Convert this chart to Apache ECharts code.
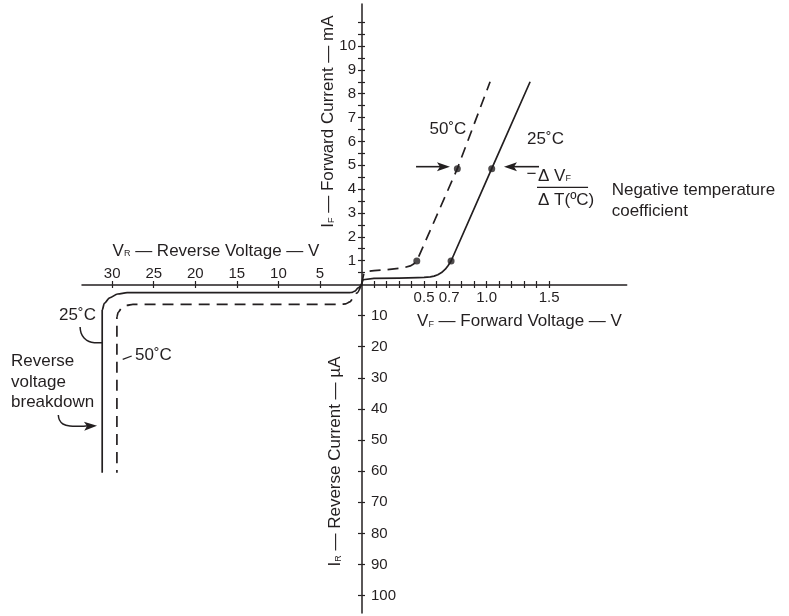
<!DOCTYPE html>
<html><head><meta charset="utf-8">
<script src="https://cdn.jsdelivr.net/npm/echarts@6.0.0/dist/echarts.min.js"></script>
<style>html,body{margin:0;padding:0;background:#fff}#c{width:789px;height:616px}</style>
</head><body><div id="c"></div>
<script>
// ---- tick values / labels ----
const fwdVoltTicks = [0.1,0.2,0.3,0.4,0.5,0.6,0.7,0.8,0.9,1.0,1.1,1.2,1.3,1.4,1.5];
const fwdVoltLabels = [0.5,0.7,1.0,1.5];
const fwdCurrTicks = [0.5,1,1.5,2,2.5,3,3.5,4,4.5,5,5.5,6,6.5,7,7.5,8,8.5,9,9.5,10,10.5,11];
const fwdCurrLabels = [1,2,3,4,5,6,7,8,9,10];
const revVoltTicks = [5,10,15,20,25,30];
const revCurrTicks = [10,20,30,40,50,60,70,80,90,100];
// ---- curves: forward [V, mA], reverse [V, uA] ----
const fwd25 = [[0,0],[0.012,0.2],[0.022,0.26],[0.1,0.26],[0.3,0.27],[0.45,0.29],[0.5,0.3],[0.55,0.32],[0.58,0.35],[0.61,0.41],[0.64,0.5],[0.67,0.64],[0.69,0.78],[0.705,0.89],[0.716,0.985],[1.041,4.855],[1.348,8.5]];
const fwd50 = [[0,0],[0.02,0.5],[0.06,0.56],[0.1,0.58],[0.2,0.62],[0.3,0.68],[0.35,0.72],[0.39,0.78],[0.42,0.87],[0.442,0.985],[0.766,4.855],[1.028,8.5]];
const rev25 = [[0,0],[0.4,1.1],[0.8,2.1],[1.1,2.5],[1.5,2.64],[10,2.64],[20,2.64],[28.2,2.64],[29.34,3.06],[30.3,4.27],[30.94,6.07],[31.2,8.2],[31.2,60.5]];
const rev50 = [[0,0],[0.58,2.8],[1.0,4.4],[1.4,5.6],[1.9,6.2],[2.5,6.4],[15,6.4],[27.5,6.4],[28.24,6.71],[28.86,7.6],[29.28,8.93],[29.43,10.5],[29.43,60.5]];
const dots25 = [[0.716,0.985],[1.041,4.855]];
const dots50 = [[0.442,0.985],[0.766,4.855]];
// ---- annotation anchors (data coordinates) ----
const annA = {
  t50:[0.691,6.52], t25:[1.471,6.08],
  arrowL:[[0.436,4.94],[0.707,4.94]], arrowR:[[1.419,4.94],[1.139,4.94]],
  minus:[1.359,4.63], dvf:[1.411,4.55], frac:[[1.403,4.075],[1.811,4.075]], dt:[1.411,3.54],
  neg:[2.0,3.96], coef:[2.0,3.05], vfTitle:[0.444,-1.56], ifTitle:[-0.266,6.83]
};
const annB = {
  vrTitle:[17.51,-10.77], irTitle:[3.13,56.9],
  t25:[34.17,9.8], lead25:[[33.86,13.66],[33.74,15.59],[33.38,17.2],[32.78,18.32],[32.06,18.71],[31.22,18.71]],
  t50:[25.03,22.66], lead50:[[28.73,24.04],[27.65,22.98]],
  rev1:[42.17,24.81], rev2:[42.17,31.56], rev3:[42.17,37.99],
  brk:[[36.48,41.95],[36.34,43.56],[35.92,44.85],[35.08,45.49],[33.86,45.58],[31.82,45.39]]
};

const INK = '#231f20';
const FONT = 'Liberation Sans';
const chart = echarts.init(document.getElementById('c'), null, {renderer:'canvas'});

function ax(o) {
  return {
    type:'value', gridIndex:o.grid, min:0, max:o.max, inverse:!!o.inverse, position:o.pos,
    axisLine:{show:!o.inner, onZero:false, lineStyle:{color:INK, width:1.5}},
    axisTick:{show:true, customValues:o.ticks, inside:!!o.inner, length:3.5, lineStyle:{color:INK, width:1.2}},
    axisLabel:{show:!o.inner, customValues:o.labels, margin:o.margin, fontSize:15, fontFamily:FONT, color:INK,
               formatter:o.fmt || (v => String(v))},
    splitLine:{show:false}
  };
}

const option = {
  animation:false,
  backgroundColor:'#fff',
  textStyle:{fontFamily:FONT},
  grid:[
    {left:361.5, top:4, width:265.2, height:280.5},
    {left:82, top:284.5, width:279.5, height:328.5}
  ],
  xAxis:[
    ax({grid:0, max:2.12, pos:'bottom', ticks:fwdVoltTicks, labels:fwdVoltLabels, margin:6, fmt:v=>v.toFixed(1)}),
    ax({grid:0, max:2.12, pos:'bottom', ticks:fwdVoltTicks, inner:true}),
    ax({grid:1, max:33.63, inverse:true, pos:'top', ticks:revVoltTicks, labels:revVoltTicks, margin:3}),
    ax({grid:1, max:33.63, inverse:true, pos:'top', ticks:revVoltTicks, inner:true})
  ],
  yAxis:[
    ax({grid:0, max:11.76, pos:'left', ticks:fwdCurrTicks, labels:fwdCurrLabels, margin:5.5}),
    ax({grid:0, max:11.76, pos:'left', ticks:fwdCurrTicks, inner:true}),
    ax({grid:1, max:105.6, inverse:true, pos:'right', ticks:revCurrTicks, labels:revCurrTicks, margin:9.5}),
    ax({grid:1, max:105.6, inverse:true, pos:'right', ticks:revCurrTicks, inner:true})
  ],
  series:[
    {type:'line', name:'25°C fwd', xAxisIndex:0, yAxisIndex:0, data:fwd25, showSymbol:false, smooth:false, silent:true,
     lineStyle:{color:INK, width:1.7, join:'round'}},
    {type:'line', name:'50°C fwd', xAxisIndex:0, yAxisIndex:0, data:fwd50, showSymbol:false, smooth:false, silent:true,
     lineStyle:{color:INK, width:1.7, type:[11,7]}},
    {type:'line', name:'25°C rev', xAxisIndex:2, yAxisIndex:2, data:rev25, showSymbol:false, smooth:0.3, smoothMonotone:'x', silent:true,
     lineStyle:{color:INK, width:1.7}},
    {type:'line', name:'50°C rev', xAxisIndex:2, yAxisIndex:2, data:rev50, showSymbol:false, smooth:0.3, smoothMonotone:'x', silent:true,
     lineStyle:{color:INK, width:1.7, type:[11,7]}},
    {type:'scatter', xAxisIndex:0, yAxisIndex:0, data:dots25.concat(dots50), symbolSize:7, silent:true, itemStyle:{color:INK}}
  ]
};
chart.setOption(option);

function PA(p){ return chart.convertToPixel({xAxisIndex:0, yAxisIndex:0}, p); }
function PB(p){ return chart.convertToPixel({xAxisIndex:2, yAxisIndex:2}, p); }

const rich = {
  m:{fontSize:17, fontFamily:FONT, lineHeight:15, fill:INK, color:INK},
  s:{fontSize:9, fontFamily:FONT, lineHeight:9, verticalAlign:'bottom', fill:INK, color:INK}
};
function txt(p, text, o) {
  o = o || {};
  const align = o.align || 'center';
  return {type:'text', x:p[0], y:p[1], rotation:o.rot || 0, silent:true,
    style:{text:text, fill:INK, fontSize:o.size || 17, fontFamily:FONT,
      align:align, textAlign:align, verticalAlign:'middle', textVerticalAlign:'middle', rich:rich}};
}
function head(tip, from) {
  const dx = tip[0]-from[0], dy = tip[1]-from[1], L = Math.hypot(dx,dy), ux = dx/L, uy = dy/L, nx = -uy, ny = ux;
  const hl = 13, hw = 4.5, nt = 10;
  const bx = tip[0]-ux*hl, by = tip[1]-uy*hl;
  return {type:'polygon', silent:true, shape:{points:[tip,[bx+nx*hw,by+ny*hw],[tip[0]-ux*nt,tip[1]-uy*nt],[bx-nx*hw,by-ny*hw]]},
    style:{fill:INK}};
}
function arrow(a, b) {
  const dx = b[0]-a[0], dy = b[1]-a[1], L = Math.hypot(dx,dy);
  const e = [b[0]-dx/L*9, b[1]-dy/L*9];
  return [{type:'line', silent:true, shape:{x1:a[0],y1:a[1],x2:e[0],y2:e[1]}, style:{stroke:INK, lineWidth:1.6}}, head(b, a)];
}

const g = [];
g.push(txt(PA(annA.t50), '50˚C'));
g.push(txt(PA(annA.t25), '25˚C'));
arrow(PA(annA.arrowL[0]), PA(annA.arrowL[1])).forEach(e => g.push(e));
arrow(PA(annA.arrowR[0]), PA(annA.arrowR[1])).forEach(e => g.push(e));
g.push(txt(PA(annA.minus), '−'));
g.push(txt(PA(annA.dvf), '{m|Δ V}{s|F}', {align:'left'}));
const f0 = PA(annA.frac[0]), f1 = PA(annA.frac[1]);
g.push({type:'line', silent:true, shape:{x1:f0[0],y1:f0[1],x2:f1[0],y2:f1[1]}, style:{stroke:INK, lineWidth:1.2}});
g.push(txt(PA(annA.dt), 'Δ T(ºC)', {align:'left'}));
g.push(txt(PA(annA.neg), 'Negative temperature', {align:'left'}));
g.push(txt(PA(annA.coef), 'coefficient', {align:'left'}));
g.push(txt(PA(annA.vfTitle), '{m|V}{s|F}{m| — Forward Voltage — V}', {align:'left'}));
g.push(txt(PA(annA.ifTitle), '{m|I}{s|F}{m| — Forward Current — mA}', {rot:Math.PI/2}));
g.push(txt(PB(annB.vrTitle), '{m|V}{s|R}{m| — Reverse Voltage — V}'));
g.push(txt(PB(annB.irTitle), '{m|I}{s|R}{m| — Reverse Current — µA}', {rot:Math.PI/2}));
g.push(txt(PB(annB.t25), '25˚C'));
g.push({type:'polyline', silent:true, shape:{points:annB.lead25.map(PB), smooth:0.4}, style:{stroke:INK, lineWidth:1.5, fill:null}});
g.push(txt(PB(annB.t50), '50˚C'));
g.push({type:'polyline', silent:true, shape:{points:annB.lead50.map(PB)}, style:{stroke:INK, lineWidth:1.3, fill:null}});
g.push(txt(PB(annB.rev1), 'Reverse', {align:'left'}));
g.push(txt(PB(annB.rev2), 'voltage', {align:'left'}));
g.push(txt(PB(annB.rev3), 'breakdown', {align:'left'}));
const bp = annB.brk.map(PB);
const bLine = bp.slice(0, bp.length-1).concat([[bp[bp.length-1][0]-9, bp[bp.length-1][1]]]);
g.push({type:'polyline', silent:true, shape:{points:bLine, smooth:0.4}, style:{stroke:INK, lineWidth:1.5, fill:null}});
g.push(head(bp[bp.length-1], bp[bp.length-2]));

chart.setOption({graphic:{elements:g}});
</script>
</body></html>
